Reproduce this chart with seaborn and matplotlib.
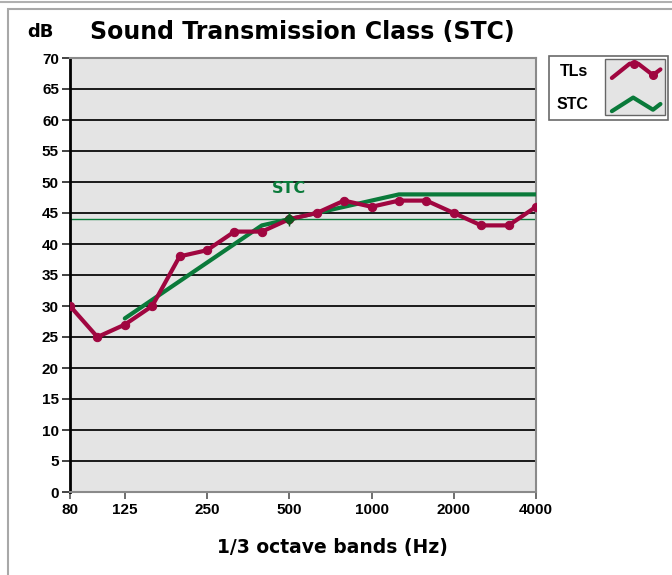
import pandas as pd
import matplotlib
matplotlib.use("Agg")
import matplotlib.pyplot as plt
import seaborn as sns
from matplotlib.legend_handler import HandlerBase
from matplotlib.lines import Line2D
from matplotlib.patches import Rectangle

# 1/3 octave band centre frequencies (Hz)
bands = ["80", "100", "125", "160", "200", "250", "315", "400", "500",
         "630", "800", "1000", "1250", "1600", "2000", "2500", "3150", "4000"]
# measured transmission loss per band (dB)
tl_values = [30, 25, 27, 30, 38, 39, 42, 42, 44,
             45, 47, 46, 47, 47, 45, 43, 43, 46]
# fitted STC reference contour, 125 Hz .. 4000 Hz
stc_bands = bands[2:]
stc_values = [28, 31, 34, 37, 40, 43, 44, 45, 46, 47, 48, 48, 48, 48, 48, 48]
stc_rating = 44
tick_labels = ["80", "125", "250", "500", "1000", "2000", "4000"]

RED = "#a00640"
GREEN = "#0a7a3a"
FONT = ["Liberation Sans", "DejaVu Sans"]
HEAVY = ["DejaVu Sans"]

LEG_FS = 11.5
LEG_BP = 0.48
LEG_LS = 1.1

tl_df = pd.DataFrame({"band": range(len(bands)), "tl": tl_values})
stc_df = pd.DataFrame({"band": [bands.index(b) for b in stc_bands], "stc": stc_values})


class ZigzagHandler(HandlerBase):
    def __init__(self, kind):
        super().__init__()
        self.kind = kind

    def create_artists(self, legend, orig_handle, xdescent, ydescent,
                       width, height, fontsize, trans):
        x0, y0 = -xdescent, -ydescent
        arts = []
        if self.kind == "tl":
            # grey sample box covering both rows
            edge = LEG_BP * fontsize - 2
            left, right = x0 - 4, x0 + width + edge
            top = y0 + height + edge
            bottom = y0 - height - LEG_LS * fontsize - edge
            arts.append(Rectangle((left, bottom), right - left, top - bottom,
                                  facecolor="#e4e4e4", edgecolor="#666666",
                                  lw=1.0, transform=trans))
            fx = [0.02, 0.38, 0.55, 0.85, 1.0]
            fy = [0.0, 1.0, 1.0, 0.2, 0.6]
        else:
            fx = [0.02, 0.45, 0.85, 1.0]
            fy = [0.0, 0.95, 0.1, 0.5]
        xs = [x0 + f * width for f in fx]
        ys = [y0 + f * height for f in fy]
        arts.append(Line2D(xs, ys, color=orig_handle.get_color(), lw=3,
                           transform=trans))
        if self.kind == "tl":
            arts.append(Line2D([(xs[1] + xs[2]) / 2, xs[3]], [ys[1], ys[3]],
                               color=orig_handle.get_color(), lw=0, marker="o",
                               markersize=5.5, transform=trans))
        return arts


sns.set_style("white")
plt.rcParams["font.family"] = FONT
plt.rcParams["font.weight"] = "bold"
plt.rcParams["text.color"] = "black"
plt.rcParams["xtick.color"] = "black"
plt.rcParams["ytick.color"] = "black"

fig = plt.figure(figsize=(6.72, 5.75), dpi=100)
ax = fig.add_axes([70 / 672, 1 - 492 / 575, 466 / 672, 434 / 575])
ax.set_facecolor("#e4e4e4")

# horizontal grid
for v in range(5, 70, 5):
    ax.axhline(v, color="#1a1a1a", lw=1.4, zorder=1)

ax.axhline(stc_rating, color=GREEN, lw=1.0, zorder=2)

sns.lineplot(data=stc_df, x="band", y="stc", color=GREEN, lw=3,
             ax=ax, zorder=3, label="STC")
sns.lineplot(data=tl_df, x="band", y="tl", color=RED, lw=3, marker="o",
             markersize=6, markeredgecolor=RED, ax=ax, zorder=4, label="TLs")

x500 = bands.index("500")
ax.plot([x500], [stc_rating], marker="D", color="#0d5a1e", markersize=5, zorder=5)
ax.plot([x500], [stc_rating], marker="+", color="#0d5a1e", markersize=10,
        markeredgewidth=1, zorder=5)
ax.text(x500, stc_rating + 5, "STC", color=GREEN, fontsize=11.5,
        fontweight="bold", family=HEAVY, ha="center", va="center")

ax.set_xlim(0, len(bands) - 1)
ax.set_ylim(0, 70)
ax.set_yticks(range(0, 71, 5))
ax.set_xticks([bands.index(t) for t in tick_labels])
ax.set_xticklabels(tick_labels)
ax.tick_params(axis="both", labelsize=11, direction="out", length=5,
               width=1.2, color="#555555", labelcolor="black", pad=3,
               bottom=True, left=True)
ax.tick_params(axis="y", length=6, color="#222222", pad=2)
for lab in ax.get_xticklabels() + ax.get_yticklabels():
    lab.set_fontweight("bold")
ax.set_xlabel("")
ax.set_ylabel("")

for side in ["top", "right", "bottom"]:
    ax.spines[side].set_color("#8a8a8a")
    ax.spines[side].set_linewidth(1.5)
ax.spines["left"].set_color("#000000")
ax.spines["left"].set_linewidth(2)

handles, labels = ax.get_legend_handles_labels()
order = [labels.index("TLs"), labels.index("STC")]
leg = fig.legend([handles[i] for i in order], [labels[i] for i in order],
                 loc="upper left", bbox_to_anchor=(549 / 672, 1 - 56 / 575),
                 borderaxespad=0, markerfirst=False, handlelength=3.1,
                 handleheight=1.0, labelspacing=LEG_LS, borderpad=LEG_BP,
                 handletextpad=1.4, frameon=True, fancybox=False,
                 edgecolor="#444444",
                 prop={"weight": "bold", "size": LEG_FS},
                 handler_map={handles[order[0]]: ZigzagHandler("tl"),
                              handles[order[1]]: ZigzagHandler("stc")})
leg.get_frame().set_linewidth(1.2)
ax.get_legend().remove()

fig.text(27 / 672, 1 - 32 / 575, "dB", fontsize=13, fontweight="bold",
         family=HEAVY, va="center", ha="left")
fig.text(90 / 672, 1 - 32 / 575, "Sound Transmission Class (STC)",
         fontsize=17, fontweight="bold", family=HEAVY, va="center", ha="left")
fig.text(332 / 672, 1 - 548 / 575, "1/3 octave bands (Hz)", fontsize=13.5,
         fontweight="bold", family=HEAVY, va="center", ha="center")

# outer panel frame
fig.add_artist(Line2D([0, 1], [1 - 1.5 / 575, 1 - 1.5 / 575],
                      transform=fig.transFigure, color="#b0b0b0", lw=1.5))
fig.add_artist(Rectangle((8 / 672, -0.01), 1.0, 1 - 9 / 575 + 0.01,
                         transform=fig.transFigure, facecolor="none",
                         edgecolor="#a8a8a8", lw=1.5))

fig.savefig("out.png", dpi=100)
